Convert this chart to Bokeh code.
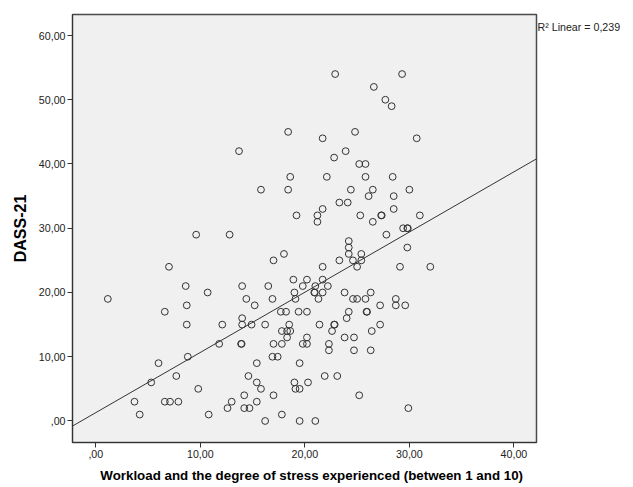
from bokeh.plotting import figure
from bokeh.models import Slope, FixedTicker, LinearAxis
from bokeh.embed import file_html
from bokeh.resources import INLINE

# ---- data ----
workload = [
    22.9, 29.3, 26.6, 27.7, 28.3, 18.4, 21.7, 24.8, 30.7, 13.7,
    23.9, 22.8, 25.2, 25.8, 18.6, 22.1, 25.8, 28.4, 15.8, 18.4,
    24.4, 26.5, 26.1, 28.5, 30.0, 23.3, 24.1, 28.5, 21.7, 19.2,
    21.2, 25.3, 27.3, 31.0, 21.2, 26.5, 27.8, 29.4, 29.8, 29.8,
    18.0, 17.0, 24.2, 24.2, 24.2, 25.4, 23.3, 24.6, 25.4, 25.0,
    21.7, 29.1, 32.0, 18.9, 20.2, 21.7, 16.5, 19.8, 21.0, 22.2,
    14.0, 19.0, 20.9, 21.7, 23.8, 26.3, 14.4, 16.9, 19.1, 21.3,
    24.6, 25.0, 25.8, 28.7, 15.2, 27.2, 28.7, 29.6, 17.7, 18.2,
    19.4, 20.2, 24.2, 25.9, 14.0, 24.0, 14.0, 14.9, 16.2, 18.5,
    21.4, 22.8, 27.2, 17.8, 18.3, 18.6, 22.6, 26.4, 18.3, 20.2,
    23.8, 24.7, 13.9, 17.0, 17.8, 19.8, 20.2, 22.3, 22.3, 24.7,
    26.3, 16.9, 17.4, 15.4, 19.5, 14.6, 21.9, 23.1, 15.4, 19.0,
    20.3, 15.8, 19.1, 19.5, 14.2, 17.0, 25.2, 15.4, 14.2, 14.7,
    29.9, 17.8, 16.2, 19.5, 21.0, 9.6, 12.8, 7.0, 8.6, 10.7,
    1.15, 6.6, 8.7, 8.7, 12.1, 11.8, 8.8, 6.0, 5.3, 7.7,
    9.8, 3.7, 6.6, 7.1, 7.9, 13.0, 4.2, 10.8, 12.6,
    25.95, 22.85, 27.35, 29.85, 20.95, 13.95,
]
dass21 = [
    54, 54, 52, 50, 49, 45, 44, 45, 44, 42,
    42, 41, 40, 40, 38, 38, 38, 38, 36, 36,
    36, 36, 35, 35, 36, 34, 34, 33, 33, 32,
    32, 32, 32, 32, 31, 31, 29, 30, 30, 27,
    26, 25, 28, 27, 26, 26, 25, 25, 25, 24,
    24, 24, 24, 22, 22, 22, 21, 21, 21, 21,
    21, 20, 20, 20, 20, 20, 19, 19, 19, 19,
    19, 19, 19, 19, 18, 18, 18, 18, 17, 17,
    17, 17, 17, 17, 16, 16, 15, 15, 15, 15,
    15, 15, 15, 14, 14, 14, 14, 14, 13, 13,
    13, 13, 12, 12, 12, 12, 12, 12, 11, 11,
    11, 10, 10, 9, 9, 7, 7, 7, 6, 6,
    6, 5, 5, 5, 4, 4, 4, 3, 2, 2,
    2, 1, 0, 0, 0, 29, 29, 24, 21, 20,
    19, 17, 18, 15, 15, 12, 10, 9, 6, 7,
    5, 3, 3, 3, 3, 3, 1, 1, 2,
    17, 15, 32, 30, 20, 12,
]
fit_intercept = 1.3
fit_slope = 0.937
r2_text = "R\u00b2 Linear = 0,239"

x_ticks = [0, 10, 20, 30, 40]
x_tick_labels = [",00", "10,00", "20,00", "30,00", "40,00"]
y_ticks = [0, 10, 20, 30, 40, 50, 60]
y_tick_labels = [",00", "10,00", "20,00", "30,00", "40,00", "50,00", "60,00"]
x_title = "Workload and the degree of stress experienced (between 1 and 10)"
y_title = "DASS-21"

# layout constants (not data)
X_MIN, X_MAX = -2.23, 42.16
Y_MIN, Y_MAX = -3.35, 63.27
R2_ANCHOR_Y = 61.4      # height beside the frame where the R² note sits
XTITLE_ANCHOR_X = 20.65  # horizontal centre of the x title

FONT = "Liberation Sans"

p = figure(width=633, height=487, x_range=(X_MIN, X_MAX), y_range=(Y_MIN, Y_MAX),
           output_backend="svg", toolbar_location=None, title=None,
           min_border_left=72, min_border_right=97, min_border_top=14, min_border_bottom=45)
p.background_fill_color = "#f0f0f0"
p.border_fill_color = "white"
p.outline_line_color = "#4a4a4a"
p.outline_line_width = 1.5
p.grid.visible = False

for ax in (p.xaxis[0], p.yaxis[0]):
    ax.major_tick_out = 5
    ax.major_tick_in = 0
    ax.minor_tick_out = 0
    ax.minor_tick_in = 0
    ax.major_tick_line_color = "#333333"
    ax.axis_line_color = "#333333"
    ax.major_label_text_font = FONT
    ax.major_label_text_font_size = "10.67px"
    ax.major_label_text_color = "#222222"
    ax.major_label_standoff = 2

p.xaxis.ticker = FixedTicker(ticks=x_ticks)
p.xaxis.major_label_overrides = {t: l for t, l in zip(x_ticks, x_tick_labels)}
p.yaxis.ticker = FixedTicker(ticks=y_ticks)
p.yaxis.major_label_overrides = {t: l for t, l in zip(y_ticks, y_tick_labels)}

p.yaxis.axis_label = y_title
p.yaxis.axis_label_text_font = FONT
p.yaxis.axis_label_text_font_style = "bold"
p.yaxis.axis_label_text_font_size = "16px"
p.yaxis.axis_label_text_color = "black"
p.yaxis.axis_label_standoff = 7

# x title drawn as the single label of a bare second axis below the first
title_axis = LinearAxis(ticker=FixedTicker(ticks=[XTITLE_ANCHOR_X]),
                        major_label_overrides={XTITLE_ANCHOR_X: x_title},
                        axis_line_color=None, major_tick_line_color=None,
                        major_tick_out=0, major_tick_in=0,
                        minor_tick_out=0, minor_tick_in=0,
                        major_label_standoff=7,
                        major_label_text_font=FONT,
                        major_label_text_font_style="bold",
                        major_label_text_font_size="13.33px",
                        major_label_text_color="black")
p.add_layout(title_axis, "below")

# R² note beside the frame, drawn as the single label of a bare right axis
r2_axis = LinearAxis(ticker=FixedTicker(ticks=[R2_ANCHOR_Y]),
                     major_label_overrides={R2_ANCHOR_Y: r2_text},
                     axis_line_color=None, major_tick_line_color=None,
                     major_tick_out=0, major_tick_in=0,
                     minor_tick_out=0, minor_tick_in=0,
                     major_label_standoff=1,
                     major_label_text_font=FONT,
                     major_label_text_font_size="10.67px",
                     major_label_text_color="#222222")
p.add_layout(r2_axis, "right")

p.scatter(workload, dass21, marker="circle", size=6.8, fill_color=None,
          line_color="#333333", line_width=1)

p.add_layout(Slope(gradient=fit_slope, y_intercept=fit_intercept,
                   line_color="#333333", line_width=1))

open("out.html", "w").write(file_html(p, INLINE))
